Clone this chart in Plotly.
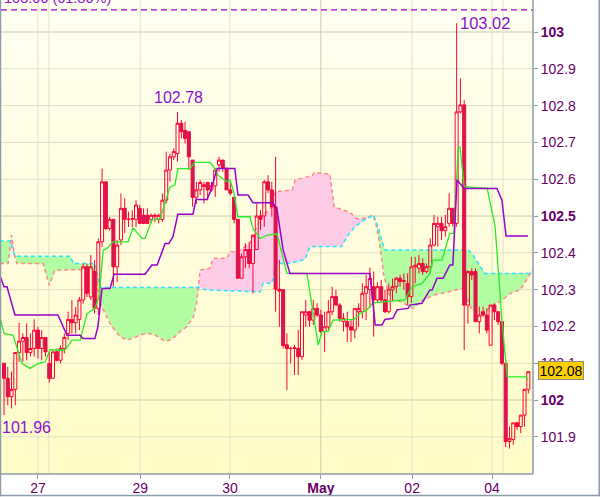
import numpy as np
import plotly.graph_objects as go

# ---------------- data ----------------
bar_open = [102.100, 102.059, 102.009, 102.029, 102.129, 102.160, 102.170, 102.129, 102.140, 102.190,
            102.140, 102.170, 102.099, 102.059, 102.131, 102.108, 102.140, 102.181, 102.219, 102.210,
            102.219, 102.272, 102.362, 102.280, 102.349, 102.249, 102.430, 102.593, 102.466, 102.491,
            102.362, 102.435, 102.521, 102.491, 102.491, 102.491, 102.521, 102.502, 102.502, 102.491,
            102.502, 102.491, 102.491, 102.543, 102.625, 102.661, 102.670, 102.752, 102.733, 102.729,
            102.652, 102.551, 102.571, 102.580, 102.591, 102.571, 102.582, 102.639, 102.652, 102.630,
            102.571, 102.551, 102.491, 102.331, 102.389, 102.409, 102.371, 102.409, 102.500, 102.500,
            102.593, 102.571, 102.525, 102.301, 102.300, 102.150, 102.140, 102.140, 102.140, 102.118,
            102.231, 102.240, 102.217, 102.249, 102.231, 102.186, 102.199, 102.240, 102.281, 102.258,
            102.213, 102.213, 102.199, 102.190, 102.240, 102.240, 102.290, 102.300, 102.308, 102.272,
            102.308, 102.272, 102.240, 102.299, 102.308, 102.331, 102.322, 102.317, 102.281, 102.362,
            102.358, 102.371, 102.349, 102.362, 102.421, 102.471, 102.480, 102.460, 102.480, 102.521,
            102.480, 102.783, 102.802, 102.258, 102.349, 102.349, 102.213, 102.240, 102.231, 102.149,
            102.258, 102.240, 102.213, 102.100, 101.887, 101.893, 101.938, 101.928, 101.959, 102.029]
bar_high = [102.100, 102.090, 102.077, 102.130, 102.210, 102.181, 102.208, 102.181, 102.219, 102.199,
            102.190, 102.170, 102.131, 102.131, 102.140, 102.149, 102.181, 102.240, 102.272, 102.253,
            102.280, 102.371, 102.371, 102.394, 102.380, 102.439, 102.629, 102.593, 102.498, 102.491,
            102.435, 102.561, 102.548, 102.512, 102.516, 102.543, 102.530, 102.521, 102.521, 102.507,
            102.507, 102.507, 102.561, 102.675, 102.670, 102.684, 102.783, 102.761, 102.756, 102.729,
            102.652, 102.593, 102.598, 102.593, 102.593, 102.593, 102.630, 102.661, 102.652, 102.630,
            102.593, 102.551, 102.491, 102.398, 102.426, 102.430, 102.448, 102.534, 102.516, 102.598,
            102.611, 102.593, 102.661, 102.380, 102.301, 102.181, 102.145, 102.149, 102.190, 102.240,
            102.272, 102.240, 102.272, 102.263, 102.245, 102.240, 102.272, 102.308, 102.299, 102.263,
            102.236, 102.240, 102.217, 102.249, 102.263, 102.317, 102.340, 102.360, 102.349, 102.320,
            102.326, 102.299, 102.317, 102.330, 102.335, 102.340, 102.344, 102.344, 102.389, 102.389,
            102.394, 102.385, 102.371, 102.439, 102.503, 102.498, 102.498, 102.503, 102.562, 102.521,
            103.024, 102.874, 102.815, 102.353, 102.358, 102.358, 102.254, 102.254, 102.249, 102.258,
            102.263, 102.240, 102.213, 102.100, 101.928, 101.938, 101.941, 101.959, 102.029, 102.077]
bar_low = [101.959, 101.986, 101.977, 101.986, 102.104, 102.104, 102.108, 102.118, 102.118, 102.113,
           102.108, 102.118, 102.047, 102.059, 102.105, 102.099, 102.127, 102.163, 102.181, 102.181,
           102.190, 102.262, 102.280, 102.272, 102.235, 102.231, 102.416, 102.462, 102.460, 102.308,
           102.321, 102.421, 102.453, 102.470, 102.470, 102.470, 102.480, 102.478, 102.478, 102.480,
           102.484, 102.480, 102.484, 102.534, 102.593, 102.652, 102.648, 102.711, 102.697, 102.625,
           102.525, 102.533, 102.557, 102.534, 102.543, 102.566, 102.552, 102.620, 102.620, 102.571,
           102.557, 102.480, 102.331, 102.331, 102.358, 102.358, 102.290, 102.408, 102.462, 102.471,
           102.562, 102.498, 102.240, 102.199, 102.140, 102.027, 102.100, 102.068, 102.068, 102.109,
           102.199, 102.199, 102.204, 102.226, 102.181, 102.131, 102.186, 102.231, 102.258, 102.213,
           102.186, 102.158, 102.158, 102.168, 102.199, 102.222, 102.217, 102.250, 102.172, 102.265,
           102.263, 102.236, 102.236, 102.270, 102.290, 102.308, 102.299, 102.258, 102.263, 102.317,
           102.344, 102.340, 102.344, 102.344, 102.417, 102.417, 102.435, 102.444, 102.471, 102.471,
           102.471, 102.779, 102.136, 102.208, 102.326, 102.213, 102.181, 102.226, 102.181, 102.149,
           102.217, 102.204, 102.095, 101.872, 101.868, 101.878, 101.919, 101.910, 101.928, 102.018]
bar_close = [102.059, 102.009, 102.029, 102.129, 102.160, 102.170, 102.129, 102.140, 102.190, 102.140,
             102.170, 102.131, 102.059, 102.131, 102.108, 102.140, 102.170, 102.219, 102.210, 102.231,
             102.272, 102.362, 102.290, 102.362, 102.249, 102.430, 102.593, 102.466, 102.491, 102.362,
             102.421, 102.521, 102.491, 102.491, 102.493, 102.530, 102.480, 102.480, 102.480, 102.502,
             102.500, 102.502, 102.543, 102.625, 102.661, 102.675, 102.752, 102.729, 102.711, 102.661,
             102.551, 102.571, 102.591, 102.585, 102.571, 102.582, 102.625, 102.652, 102.630, 102.571,
             102.562, 102.491, 102.331, 102.389, 102.409, 102.371, 102.448, 102.500, 102.491, 102.593,
             102.571, 102.525, 102.301, 102.296, 102.148, 102.140, 102.140, 102.142, 102.118, 102.240,
             102.240, 102.217, 102.249, 102.231, 102.186, 102.199, 102.240, 102.281, 102.258, 102.222,
             102.222, 102.199, 102.190, 102.249, 102.249, 102.290, 102.308, 102.330, 102.272, 102.308,
             102.272, 102.240, 102.301, 102.308, 102.331, 102.322, 102.324, 102.281, 102.362, 102.366,
             102.371, 102.349, 102.362, 102.421, 102.480, 102.480, 102.460, 102.471, 102.521, 102.480,
             102.783, 102.802, 102.258, 102.349, 102.340, 102.213, 102.231, 102.231, 102.190, 102.258,
             102.240, 102.213, 102.100, 101.887, 101.895, 101.938, 101.928, 101.959, 102.029, 102.077]

tenkan_x = [-1.1, 0, 2.4, 4.8, 6.9, 9.0, 10.9, 12.2, 16.2, 18.0, 20.2, 22.0, 24.1, 25.2, 26.3,
            27.3, 28.9, 32.9, 34.2, 36.6, 37.4, 39.2, 41.4, 42.7, 44.0, 45.3, 46.1, 49.3, 50.6, 54.6,
            55.4, 56.7, 59.1, 59.9, 61.0, 62.0, 65.2, 66.0, 67.9, 69.7, 72.4, 75.0, 80.3, 83.3, 84.3,
            85.9, 87.2, 92.8, 94.4, 96.2, 97.8, 106.3, 108.2, 110.8, 112.9, 113.7, 116.1, 118.2, 119.3,
            120.4, 120.9, 122.0, 128.1, 130.2, 132.0, 133.4, 138.4, 138.9]
tenkan_y = [102.226, 102.181, 102.176, 102.099, 102.086, 102.099, 102.104, 102.136, 102.136, 102.163,
            102.163, 102.235, 102.249, 102.281, 102.407, 102.412, 102.430, 102.430, 102.468, 102.439,
            102.439, 102.489, 102.493, 102.539, 102.579, 102.584, 102.629, 102.629, 102.646, 102.646,
            102.636, 102.611, 102.593, 102.598, 102.562, 102.498, 102.498, 102.466, 102.439, 102.448,
            102.451, 102.344, 102.344, 102.149, 102.186, 102.186, 102.217, 102.219, 102.235, 102.245,
            102.264, 102.272, 102.308, 102.317, 102.344, 102.380, 102.380, 102.453, 102.453, 102.684,
            102.688, 102.580, 102.575, 102.471, 102.217, 102.063, 102.063, 102.054]

kijun_x = [-1.1, 0, 0.8, 2.9, 14.3, 16.7, 20.2, 20.9, 24.1, 24.9, 26.0, 28.1, 29.2, 37.4, 39.2,
           40.6, 42.7, 43.7, 44.8, 46.1, 50.1, 50.9, 53.8, 54.6, 56.5, 61.2, 62.0, 64.7, 66.0, 71.3,
           72.4, 74.0, 75.8, 97.0, 98.4, 100.2, 101.0, 103.1, 104.2, 107.1, 107.6, 110.8, 112.9, 113.5,
           114.8, 116.4, 118.2, 119.0, 120.1, 122.0, 130.7, 132.0, 133.1, 138.9]
kijun_y = [102.339, 102.308, 102.308, 102.231, 102.231, 102.176, 102.176, 102.167, 102.167, 102.199,
           102.303, 102.303, 102.342, 102.342, 102.367, 102.367, 102.425, 102.425, 102.444, 102.505,
           102.505, 102.545, 102.545, 102.563, 102.629, 102.629, 102.557, 102.557, 102.536, 102.536,
           102.516, 102.408, 102.344, 102.344, 102.204, 102.204, 102.219, 102.222, 102.245, 102.249,
           102.258, 102.263, 102.299, 102.299, 102.331, 102.331, 102.367, 102.367, 102.598, 102.575,
           102.575, 102.543, 102.446, 102.446]

span_a_x = [-1.1, 1.6, 2.5, 2.9, 17.5, 18.4, 24.1, 25.5, 51.5, 53.7, 67.9, 68.7, 71.0, 72.3, 75.4,
            77.2, 79.8, 81.1, 89.5, 90.9, 92.6, 94.8, 97.9, 99.2, 100.1, 101.0, 123.1, 124.4, 125.7,
            127.5, 140.3]
span_a_y = [102.432, 102.432, 102.403, 102.391, 102.391, 102.371, 102.371, 102.306, 102.306, 102.299,
            102.294, 102.317, 102.317, 102.371, 102.371, 102.376, 102.382, 102.417, 102.417, 102.444,
            102.466, 102.485, 102.503, 102.471, 102.435, 102.408, 102.408, 102.394, 102.371, 102.344,
            102.344]

span_b_x = [-1.1, 1.1, 2.0, 2.7, 3.4, 10.4, 12.0, 13.5, 23.7, 24.1, 25.5, 28.1, 29.4, 30.8, 32.5,
            34.3, 36.1, 37.8, 39.6, 41.4, 42.7, 44.0, 45.3, 46.7, 48.4, 50.2, 51.1, 51.5, 52.0, 54.6,
            55.4, 59.1, 59.9, 62.0, 65.2, 68.4, 70.5, 71.9, 76.4, 77.2, 81.7, 82.2, 86.4, 87.5, 91.7,
            93.6, 96.2, 97.9, 98.8, 99.7, 100.6, 101.9, 103.2, 105.0, 108.5, 110.3, 113.8, 118.2, 121.7,
            124.0, 127.1, 129.7, 131.5, 134.2, 136.8, 139.0, 140.3]
span_b_y = [102.371, 102.371, 102.448, 102.398, 102.371, 102.371, 102.312, 102.353, 102.355, 102.350,
            102.263, 102.208, 102.190, 102.172, 102.163, 102.168, 102.177, 102.181, 102.179, 102.168,
            102.160, 102.163, 102.172, 102.186, 102.199, 102.226, 102.263, 102.306, 102.353, 102.358,
            102.385, 102.385, 102.403, 102.403, 102.426, 102.503, 102.516, 102.566, 102.571, 102.598,
            102.610, 102.618, 102.614, 102.525, 102.510, 102.492, 102.495, 102.503, 102.471, 102.417,
            102.344, 102.290, 102.272, 102.268, 102.249, 102.267, 102.285, 102.295, 102.305, 102.245,
            102.236, 102.258, 102.267, 102.290, 102.299, 102.335, 102.355]

x_tick_vals = [9.0, 36.1, 59.9, 84.0, 108.2, 129.4]
x_tick_text = ["27", "29", "30", "<b>May</b>", "02", "04"]
x_extra_lines = [11.9, 132.3]
y_tick_vals = [101.9, 102.0, 102.1, 102.2, 102.3, 102.4, 102.5, 102.6, 102.7, 102.8, 102.9, 103.0]
y_tick_text = ["101.9", "<b>102</b>", "102.1", "102.2", "102.3", "102.4", "<b>102.5</b>",
               "102.6", "102.7", "102.8", "102.9", "<b>103</b>"]
fib_level = 103.06
fib_label = "103.06 (61.80%)"
last_price = 102.08

# ---------------- figure ----------------
XR = [-0.795, 140.24]
YR = [101.799, 103.087]
FONT = "Liberation Sans, Arial, sans-serif"
LBL = "#660066"
ANN = "#8B10D0"
FRAME = "#8C9BAA"

fig = go.Figure()

xs = np.linspace(min(span_a_x[0], span_b_x[0]), max(span_a_x[-1], span_b_x[-1]), 3000)
a_i = np.interp(xs, span_a_x, span_a_y)
b_i = np.interp(xs, span_b_x, span_b_y)
hi = np.maximum(a_i, b_i)
common = dict(mode="lines", line=dict(width=0), hoverinfo="skip", showlegend=False)
fig.add_trace(go.Scatter(x=xs, y=b_i, **common))
fig.add_trace(go.Scatter(x=xs, y=hi, fill="tonexty", fillcolor="#B2FCA2", **common))
fig.add_trace(go.Scatter(x=xs, y=a_i, **common))
fig.add_trace(go.Scatter(x=xs, y=hi, fill="tonexty", fillcolor="#FFCCE8", **common))
fig.add_trace(go.Scatter(x=span_b_x, y=span_b_y, mode="lines", hoverinfo="skip", showlegend=False,
                         line=dict(color="#FF8888", width=1.5, dash="4px,3px")))
fig.add_trace(go.Scatter(x=span_a_x, y=span_a_y, mode="lines", hoverinfo="skip", showlegend=False,
                         line=dict(color="#22E6FF", width=1.5, dash="4px,3px")))

fig.add_trace(go.Candlestick(
    x=list(range(len(bar_open))), open=bar_open, high=bar_high, low=bar_low, close=bar_close,
    xaxis="x2", yaxis="y2", whiskerwidth=0, hoverinfo="skip", showlegend=False,
    increasing=dict(line=dict(color="#FF0033", width=1), fillcolor="rgba(0,0,0,0)"),
    decreasing=dict(line=dict(color="#FF0033", width=1), fillcolor="#C41E5E")))
fig.add_trace(go.Scatter(x=tenkan_x, y=tenkan_y, xaxis="x2", yaxis="y2", mode="lines",
                         hoverinfo="skip", showlegend=False, line=dict(color="#22EE22", width=1.3)))
fig.add_trace(go.Scatter(x=kijun_x, y=kijun_y, xaxis="x2", yaxis="y2", mode="lines",
                         hoverinfo="skip", showlegend=False, line=dict(color="#9900CC", width=1.5)))

shapes = []
# background gradient
nb = 40
top_c = np.array([255, 255, 243])
bot_c = np.array([255, 252, 198])
for i in range(nb):
    t = (i + 0.5) / nb
    c = top_c * (1 - t) + bot_c * t
    shapes.append(dict(type="rect", xref="paper", yref="paper", x0=0, x1=1,
                       y0=1 - (i + 1) / nb, y1=1 - i / nb, layer="below", line=dict(width=0),
                       fillcolor="rgb(%d,%d,%d)" % tuple(int(round(v)) for v in c)))
# grid
for v in y_tick_vals:
    major = abs(v * 2 - round(v * 2)) < 1e-6
    shapes.append(dict(type="line", xref="paper", yref="y", x0=0, x1=1, y0=v, y1=v, layer="below",
                       line=dict(color="#CACAA8" if major else "#E0E0C6", width=1)))
for v, t in zip(x_tick_vals, x_tick_text):
    major = "May" in t
    shapes.append(dict(type="line", xref="x", yref="paper", x0=v, x1=v, y0=0, y1=1, layer="below",
                       line=dict(color="#CACAA8" if major else "#E0E0C6", width=1)))
for v in x_extra_lines:
    shapes.append(dict(type="line", xref="x", yref="paper", x0=v, x1=v, y0=0, y1=1, layer="below",
                       line=dict(color="#E0E0C6", width=1)))
# fib dashed line
shapes.append(dict(type="line", xref="paper", yref="y", x0=0, x1=1, y0=fib_level, y1=fib_level,
                   line=dict(color="#9900CC", width=1.3, dash="6px,4px")))
# borders
shapes += [
    dict(type="line", xref="paper", yref="paper", x0=1, x1=1, y0=0, y1=1, line=dict(color=FRAME, width=1.5)),
    dict(type="line", xref="paper", yref="paper", x0=-0.002, x1=1, y0=0, y1=0, line=dict(color=FRAME, width=1.5)),
    dict(type="line", xref="paper", yref="paper", x0=-0.001, x1=-0.001, y0=-0.047, y1=1, line=dict(color=FRAME, width=1.5)),
    dict(type="line", xref="paper", yref="paper", x0=-0.002, x1=1.126, y0=-0.0455, y1=-0.0455, line=dict(color=FRAME, width=1.5)),
    dict(type="line", xref="paper", yref="paper", x0=1.1245, x1=1.1245, y0=-0.047, y1=1, line=dict(color=FRAME, width=1.5)),
]

imax = int(np.argmax(bar_high[:100]))
imax2 = int(np.argmax(bar_high))
imin = int(np.argmin(bar_low[:60]))
annotations = [
    dict(text=fib_label, xref="paper", yref="y", x=0, y=fib_level, xanchor="left", yanchor="bottom",
         xshift=1, yshift=1.5, showarrow=False, font=dict(family=FONT, size=14.5, color=ANN)),
    dict(text="%.2f" % bar_high[imax], xref="x", yref="y", x=imax, y=bar_high[imax], xanchor="center",
         yanchor="bottom", yshift=4, xshift=1, showarrow=False, font=dict(family=FONT, size=16, color=ANN)),
    dict(text="%.2f" % bar_high[imax2], xref="x", yref="y", x=imax2, y=bar_high[imax2], xanchor="left",
         yanchor="middle", xshift=1, showarrow=False, font=dict(family=FONT, size=16.5, color=ANN)),
    dict(text="%.2f" % bar_low[imin], xref="x", yref="y", x=imin, y=bar_low[imin], xanchor="left",
         yanchor="top", xshift=-4, yshift=-2, showarrow=False, font=dict(family=FONT, size=16, color=ANN)),
    dict(text="%.2f" % last_price, xref="paper", yref="y", x=1, y=last_price, xanchor="left",
         yanchor="middle", xshift=5, showarrow=False, bgcolor="#FFD000", bordercolor="#8C8C8C",
         borderwidth=1, borderpad=1, width=42, height=15,
         font=dict(family=FONT, size=14, color="black")),
]

fig.update_layout(
    width=600, height=497, margin=dict(l=1, r=67, t=0, b=23, pad=0, autoexpand=False),
    paper_bgcolor="white", plot_bgcolor="#FFFFE8", showlegend=False,
    boxgap=0.2, boxgroupgap=0, boxmode="overlay",
    shapes=shapes, annotations=annotations,
    xaxis=dict(range=XR, showgrid=False, zeroline=False, showline=False, tickvals=x_tick_vals,
               ticktext=x_tick_text, ticks="outside", ticklen=4, tickcolor=FRAME, automargin=False,
               ticklabelstandoff=-3,
               tickfont=dict(family=FONT, size=14, color=LBL), rangeslider=dict(visible=False),
               fixedrange=True),
    yaxis=dict(range=YR, side="right", showgrid=False, zeroline=False, showline=False,
               tickvals=y_tick_vals, ticktext=y_tick_text, ticks="outside", ticklen=4, tickcolor=FRAME,
               automargin=False, tickfont=dict(family=FONT, size=14, color=LBL), fixedrange=True),
    xaxis2=dict(range=XR, overlaying="x", visible=False, rangeslider=dict(visible=False),
                fixedrange=True, automargin=False),
    yaxis2=dict(range=YR, overlaying="y", visible=False, fixedrange=True, automargin=False),
)

fig.write_html("out.html", config=dict(displayModeBar=False),
               post_script="document.body.style.margin='0';document.body.style.overflow='hidden';")
